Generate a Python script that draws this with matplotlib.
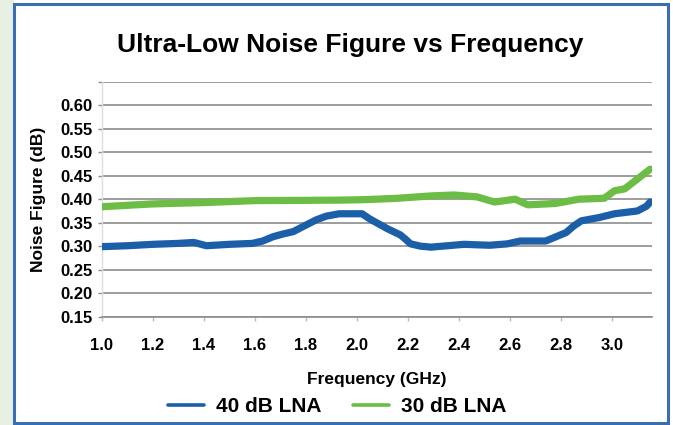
import numpy as np
import matplotlib
matplotlib.use('Agg')
import matplotlib.pyplot as plt
from matplotlib.patches import Rectangle

plt.rcParams['font.family'] = ['Liberation Sans', 'DejaVu Sans']
plt.rcParams['font.weight'] = 'bold'

# Данные
freq_40 = [1.00, 1.10, 1.20, 1.30, 1.36, 1.41, 1.50, 1.59, 1.63, 1.67, 1.71, 1.75, 1.80, 1.84, 1.88, 1.93,
           2.02, 2.05, 2.12, 2.17, 2.19, 2.21, 2.25, 2.29, 2.42, 2.52, 2.59, 2.64, 2.74, 2.78, 2.82,
           2.85, 2.88, 2.95, 3.01, 3.10, 3.135, 3.15]
nf_40 = [0.299, 0.301, 0.304, 0.306, 0.308, 0.301, 0.304, 0.306, 0.311, 0.320, 0.326, 0.331, 0.345, 0.356,
         0.364, 0.369,
         0.369, 0.358, 0.337, 0.324, 0.315, 0.305, 0.300, 0.298, 0.304, 0.302, 0.305, 0.311, 0.311, 0.320,
         0.329, 0.343, 0.354, 0.361, 0.369, 0.375, 0.385, 0.394]

freq_30 = [1.00, 1.20, 1.41, 1.60, 1.93, 2.03, 2.16, 2.29, 2.38, 2.47, 2.54, 2.62, 2.67,
           2.78, 2.87, 2.97, 3.01, 3.05, 3.10, 3.15]
nf_30 = [0.384, 0.390, 0.393, 0.397, 0.398, 0.399, 0.402, 0.407, 0.409, 0.405, 0.394, 0.400, 0.388,
         0.391, 0.400, 0.402, 0.418, 0.422, 0.443, 0.464]

x_ticks = [1.0, 1.2, 1.4, 1.6, 1.8, 2.0, 2.2, 2.4, 2.6, 2.8, 3.0]
y_ticks = [0.15, 0.20, 0.25, 0.30, 0.35, 0.40, 0.45, 0.50, 0.55, 0.60]

fig = plt.figure(figsize=(6.73, 4.25), dpi=100)
fig.patch.set_facecolor('white')

# фон слева и синяя рамка
fig.add_artist(Rectangle((0, 0), 14 / 673, 1, transform=fig.transFigure,
                         facecolor='#e6f0e3', edgecolor='none', zorder=0))
fig.add_artist(Rectangle((14 / 673, 2 / 425), 654 / 673, 419 / 425, transform=fig.transFigure,
                         facecolor='white', edgecolor='#3b6db3', linewidth=2.2, zorder=0))

ax = fig.add_axes([102 / 673, 1 - 316.7 / 425, 550 / 673, (316.7 - 81.7) / 425])
ax.set_facecolor('none')

ax.plot(freq_40, nf_40, color='#1b5fa9', linewidth=5.2, solid_capstyle='round',
        solid_joinstyle='round', label='40 dB LNA', zorder=3)
ax.plot(freq_30, nf_30, color='#6cbd45', linewidth=5.2, solid_capstyle='round',
        solid_joinstyle='round', label='30 dB LNA', zorder=3)

ax.set_xlim(1.0, 3.157)
ax.set_ylim(0.15, 0.65)
ax.set_xticks(x_ticks)
ax.set_xticklabels([f'{v:.1f}' for v in x_ticks])
ax.set_yticks(y_ticks + [0.65])
ax.set_yticklabels([f'{v:.2f}' for v in y_ticks] + [''])

ax.grid(axis='y', color='#8c8c8c', linewidth=1.2)
ax.set_axisbelow(True)
for s in ['top', 'right']:
    ax.spines[s].set_visible(False)
ax.spines['bottom'].set_color('#8c8c8c')
ax.spines['bottom'].set_linewidth(1.2)
ax.spines['left'].set_color('#dddddd')
ax.spines['left'].set_linewidth(1.0)

ax.tick_params(axis='y', length=3, width=1, color='#8c8c8c', pad=4, labelsize=12)
ax.tick_params(axis='x', length=3, width=1, color='#bbbbbb', pad=12, labelsize=12)

ax.set_xlabel('Frequency (GHz)', fontsize=12.5, fontweight='bold', labelpad=14)
ax.set_ylabel('Noise Figure (dB)', fontsize=12.5, fontweight='bold', labelpad=10)

fig.text(0.52, 1 - 45 / 425, 'Ultra-Low Noise Figure vs Frequency', ha='center', va='center',
         fontsize=19, fontweight='bold')

leg = fig.legend(loc='center', bbox_to_anchor=(337 / 673, 1 - 407 / 425), ncol=2, frameon=False,
                 fontsize=15, handlelength=1.75, columnspacing=1.5, handletextpad=0.55)
for line in leg.get_lines():
    line.set_linewidth(2.6)

fig.savefig('out.png', dpi=100)
